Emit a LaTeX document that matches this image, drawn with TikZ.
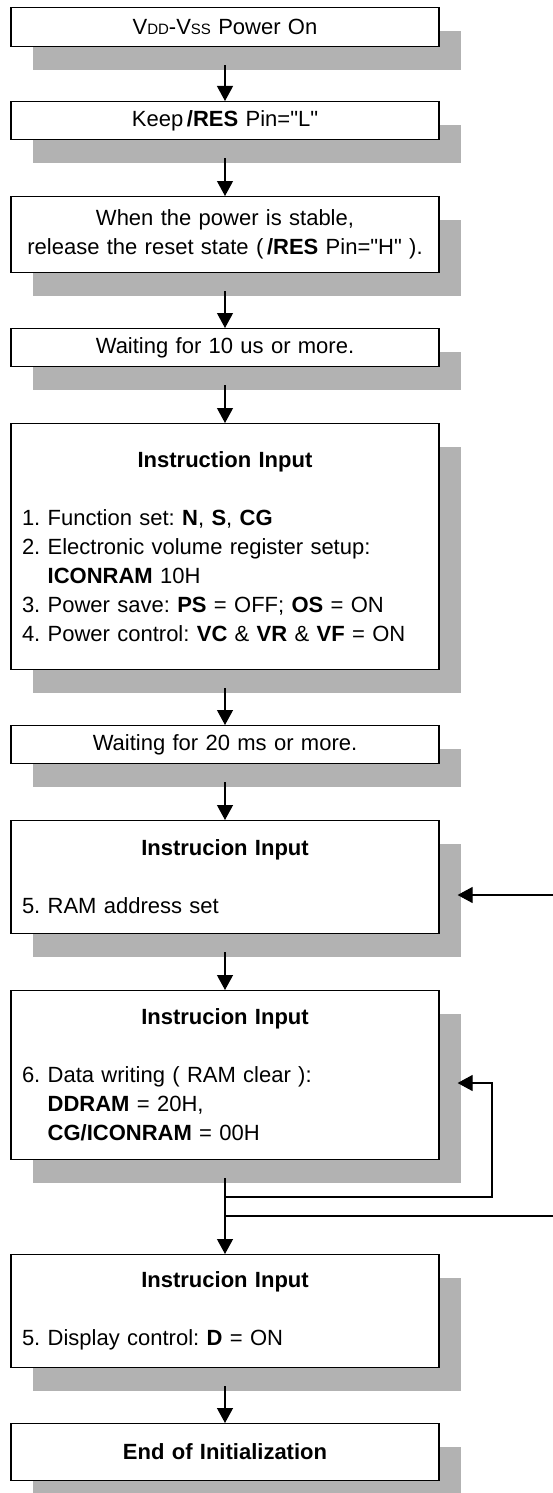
\documentclass[tikz,border=0pt]{standalone}
\usepackage{fontspec}
\setmainfont{Liberation Sans}[Ligatures=TeXOff]
\usepackage{tikz}
\usetikzlibrary{arrows.meta,shadows}
\definecolor{shadegray}{RGB}{178,178,178}
\frenchspacing

\begin{document}
\begin{tikzpicture}[
    x=1pt, y=1pt,
    stepbox/.style={rectangle, draw=black, line width=1.2pt, fill=white, anchor=north,
        text width=406pt, inner xsep=11pt, inner ysep=3pt, align=center,
        font=\fontsize{22}{29}\selectfont,
        drop shadow={shadow xshift=22pt, shadow yshift=-23pt, fill=shadegray, opacity=1}},
    instr/.style={stepbox, align=left},
    arrow/.style={-{Triangle[length=15pt,width=16pt]}, line width=1.2pt},
    flow/.style={arrow, shorten <=18pt}
]
\useasboundingbox (0,0) rectangle (553,-1493);

% Steps
\node[stepbox, minimum height=39pt] (power) at (225,-7) {V{\fontsize{15}{15}\selectfont DD}-V{\fontsize{15}{15}\selectfont SS} Power On};
\node[stepbox, minimum height=38pt] (keep) at (225,-101) {Keep\,\textbf{/RES} Pin="L"};
\node[stepbox, minimum height=76pt] (release) at (225,-196) {When the power is stable,\\release the reset state (\,\textbf{/RES} Pin="H" ).};
\node[stepbox, minimum height=38pt] (wait1) at (225,-328) {Waiting for 10 us or more.};
\node[instr, minimum height=246pt] (init) at (225,-423) {\makebox[\linewidth]{\textbf{Instruction Input}}\\[29pt]
    1. Function set: \textbf{N}, \textbf{S}, \textbf{CG}\\
    2. Electronic volume register setup:\\
    \phantom{2. }\textbf{ICONRAM} 10H\\
    3. Power save: \textbf{PS} = OFF; \textbf{OS} = ON\\
    4. Power control: \textbf{VC} \& \textbf{VR} \& \textbf{VF} = ON};
\node[stepbox, minimum height=38pt] (wait2) at (225,-725) {Waiting for 20 ms or more.};
\node[instr, minimum height=113pt] (ramaddr) at (225,-820) {\makebox[\linewidth]{\textbf{Instrucion Input}}\\[29pt]
    5. RAM address set};
\node[instr, minimum height=169pt] (ramclr) at (225,-990) {\makebox[\linewidth]{\textbf{Instrucion Input}}\\[29pt]
    6. Data writing ( RAM clear ):\\
    \phantom{6. }\textbf{DDRAM} = 20H,\\
    \phantom{6. }\textbf{CG/ICONRAM} = 00H};
\node[instr, minimum height=113pt] (dispctl) at (225,-1254) {\makebox[\linewidth]{\textbf{Instrucion Input}}\\[29pt]
    5. Display control: \textbf{D} = ON};
\node[stepbox, minimum height=57pt] (done) at (225,-1423) {\textbf{End of Initialization}};

% Flow
\draw[flow] (power) -- (keep);
\draw[flow] (keep) -- (release);
\draw[flow] (release) -- (wait1);
\draw[flow] (wait1) -- (init);
\draw[flow] (init) -- (wait2);
\draw[flow] (wait2) -- (ramaddr);
\draw[flow] (ramaddr) -- (ramclr);
\draw[flow] (ramclr) -- (dispctl);
\draw[flow] (dispctl) -- (done);

% Loops
\coordinate (splitA) at (225,-1197);
\coordinate (splitB) at (225,-1216);
\coordinate (loopA) at (492,-1083);
\coordinate (edgeB) at (553,-1216);
\coordinate (edgeA) at (553,-895);
\draw[arrow, shorten >=18pt] (splitA) -| (loopA) -- (ramclr.east |- loopA);
\draw[line width=1.2pt] (splitB) -- (edgeB);
\draw[arrow, shorten >=18pt] (edgeA) -- (ramaddr.east |- edgeA);

\end{tikzpicture}
\end{document}
